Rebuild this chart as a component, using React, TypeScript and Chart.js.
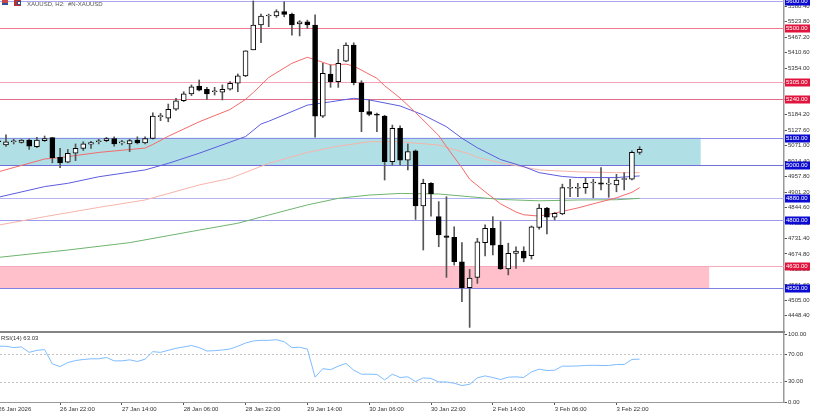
import React, { useEffect, useRef } from "react";
import { Chart, registerables } from "chart.js";

Chart.register(...registerables);

// ---------------- data ----------------
const timeTickBars = [0, 8, 16, 24, 32, 40, 48, 56, 64, 72, 80];
const timeTickLabels = [
  "26 Jan 2026", "26 Jan 22:00", "27 Jan 14:00", "28 Jan 06:00", "28 Jan 22:00",
  "29 Jan 14:00", "30 Jan 06:00", "30 Jan 22:00", "2 Feb 14:00", "3 Feb 06:00", "3 Feb 22:00",
];

const opens = [
  5087, 5073, 5085, 5083, 5091, 5067, 5089, 5100, 5028, 5010,
  5043, 5061, 5076, 5085, 5089, 5097, 5081, 5077, 5091, 5081,
  5097, 5177, 5171, 5204, 5235, 5260, 5289, 5277, 5268, 5266,
  5277, 5299, 5326, 5421, 5512, 5545, 5545, 5561, 5551, 5516,
  5524, 5512, 5179, 5333, 5305, 5380, 5439, 5301, 5195, 5186,
  5179, 5012, 5134, 5018, 5052, 4850, 4933, 4811, 4741, 4735,
  4646, 4551, 4589, 4716, 4768, 4707, 4620, 4677, 4685, 4668,
  4772, 4842, 4809, 4821, 4915, 4915, 4917, 4934, 4935, 4930,
  4927, 4947, 4948, 5046,
];
const highs = [
  5100, 5110, 5094, 5093, 5095, 5101, 5106, 5101, 5061, 5057,
  5077, 5085, 5087, 5094, 5101, 5103, 5090, 5094, 5103, 5103,
  5191, 5189, 5223, 5244, 5268, 5293, 5311, 5284, 5284, 5293,
  5305, 5333, 5418, 5600, 5552, 5552, 5568, 5597, 5556, 5528,
  5530, 5549, 5372, 5366, 5423, 5447, 5447, 5308, 5238, 5190,
  5182, 5146, 5143, 5077, 5055, 4948, 4936, 4866, 4884, 4774,
  4716, 4618, 4732, 4781, 4811, 4793, 4714, 4701, 4701, 4777,
  4857, 4845, 4826, 4930, 4948, 4933, 4951, 4948, 4991, 4951,
  4966, 4972, 5052, 5067,
];
const lows = [
  5070, 5068, 5077, 5080, 5057, 5063, 5086, 5008, 4990, 5008,
  5016, 5053, 5061, 5077, 5085, 5069, 5073, 5049, 5077, 5077,
  5095, 5162, 5158, 5200, 5232, 5254, 5271, 5240, 5256, 5238,
  5274, 5268, 5323, 5421, 5447, 5506, 5540, 5542, 5475, 5472,
  5500, 5102, 5174, 5284, 5284, 5378, 5293, 5122, 5180, 5122,
  4945, 5000, 5000, 4982, 4801, 4689, 4813, 4701, 4589, 4634,
  4500, 4406, 4567, 4667, 4671, 4618, 4598, 4622, 4646, 4656,
  4765, 4748, 4799, 4818, 4884, 4884, 4896, 4880, 4909, 4882,
  4902, 4909, 4945, 5039,
];
const closes = [
  5085, 5085, 5086, 5091, 5069, 5091, 5097, 5027, 5008, 5043,
  5061, 5077, 5082, 5086, 5097, 5077, 5082, 5089, 5081, 5097,
  5179, 5178, 5204, 5235, 5260, 5286, 5274, 5260, 5269, 5277,
  5299, 5326, 5418, 5512, 5545, 5548, 5561, 5551, 5512, 5524,
  5512, 5179, 5335, 5305, 5372, 5439, 5301, 5195, 5185, 5182,
  5012, 5134, 5018, 5049, 4850, 4933, 4894, 4744, 4735, 4646,
  4551, 4586, 4719, 4768, 4707, 4620, 4677, 4685, 4659, 4774,
  4842, 4809, 4823, 4917, 4916, 4916, 4933, 4936, 4930, 4931,
  4945, 4949, 5046, 5057,
];

const rsiValues = [
  82, 82, 80, 81, 73, 76, 77, 56, 52, 58,
  61, 62.5, 63.5, 63.5, 65.5, 60.5, 60.5, 62, 59.6, 63,
  74, 73, 76, 79, 81, 83, 80, 75, 75.5, 76.5,
  78, 82, 86.7, 89.7, 90.7, 90.7, 91.6, 88.6, 80, 80.5,
  77.8, 36.5, 49, 47.5, 52.7, 56.7, 46.8, 40.9, 40.9, 40.5,
  32.5, 40.9, 36, 37, 30, 35.5, 34.6, 29.5, 29.5, 27.6,
  24.2, 26, 35.5, 38.4, 36, 33, 36.5, 37, 36, 44.3,
  48.3, 46.3, 46.8, 52.7, 52.7, 53, 53.7, 54, 53.7, 53.7,
  55.2, 55.2, 62.6, 63.03,
];

const maFastBars = [0, 6, 8, 13, 19, 20, 22, 26, 30, 32, 33, 35, 38, 40, 41, 43, 45, 46, 49, 50, 52, 54, 57, 58, 60, 61, 63, 65, 67, 68, 70, 72, 75, 77, 80, 82, 83];
const maFastValues = [4975, 5022, 5027, 5046, 5062, 5075, 5105, 5158, 5203, 5240, 5265, 5320, 5372, 5394, 5385, 5366, 5369, 5362, 5317, 5290, 5245, 5192, 5108, 5067, 4990, 4948, 4902, 4858, 4828, 4818, 4813, 4824, 4843, 4858, 4880, 4900, 4917];

const maMidBars = [0, 6, 9, 13, 19, 22, 26, 31, 32, 34, 35, 40, 43, 46, 48, 52, 55, 58, 60, 62, 65, 68, 70, 73, 75, 80, 83];
const maMidValues = [4882, 4921, 4933, 4957, 4982, 5006, 5043, 5094, 5104, 5150, 5160, 5219, 5231, 5244, 5238, 5216, 5183, 5140, 5098, 5063, 5020, 4994, 4972, 4958, 4954, 4954, 4960];

const maSlowBars = [0, 6, 13, 19, 26, 30, 35, 40, 44, 48, 52, 57, 61, 62, 65, 67, 70, 75, 80, 83];
const maSlowValues = [4780, 4811, 4845, 4872, 4927, 4951, 5006, 5046, 5069, 5085, 5085, 5073, 5040, 5028, 5008, 4998, 4982, 4975, 4972, 4972];

const maLongBars = [0, 9, 17, 26, 31, 35, 40, 44, 48, 52, 57, 61, 65, 70, 75, 80, 83];
const maLongValues = [4662, 4689, 4716, 4762, 4787, 4817, 4854, 4878, 4890, 4896, 4894, 4884, 4874, 4869, 4872, 4873, 4878];

const priceTicks = [
  5580.4, 5523.8, 5467.2, 5410.6, 5354.0, 5297.4, 5240.8, 5184.2, 5127.6, 5071.0, 5014.4,
  4957.8, 4901.2, 4844.6, 4788.0, 4731.4, 4674.8, 4618.2, 4561.6, 4505.0, 4448.4,
];
const rsiTicks = [100, 70, 30, 0];
const rsiLevels = [70, 30];

const levelPrices = [5600, 5500, 5305, 5240, 5100, 5000, 4880, 4800, 4630, 4550];
const levelTags = ["blue", "red", "red", "red", "blue", "blue", "blue", "blue", "red", "blue"];

const zoneLows = [5000, 4550];
const zoneHighs = [5100, 4630];
const zoneEndBars = [90.9, 92.0];

const symbolTitle = "XAUUSD, H2:  #N-XAUUSD";
const rsiTitle = "RSI(14) 63.03";

// ---------------- styles ----------------
const X_MIN = 0.225;
const X_MAX = 101.68;
const Y_MIN = 4396.5;
const Y_MAX = 5603.5;
const FONT = "'Liberation Sans', Arial, sans-serif";
const TEXT = "#333333";
const levelLineColors = ["#a8a8f0", "#f07890", "#f4a4b6", "#e0708c", "#8c8ce8", "#7070d8", "#b4b4f2", "#9c9cec", "#f4a8b8", "#8080e0"];
const zoneFills = ["#b0e0e6", "#ffc0cb"];

function lineSet(bars: number[], vals: number[], color: string, order: number) {
  return {
    type: "line" as const,
    data: bars.map((b, k) => ({ x: b, y: vals[k] })),
    borderColor: color,
    borderWidth: 1,
    pointRadius: 0,
    tension: 0,
    fill: false,
    order,
  };
}

const mainDecor = {
  id: "mainDecor",
  beforeDatasetsDraw(chart: any) {
    const { ctx, chartArea: a, scales } = chart;
    const x = scales.x, y = scales.y;
    ctx.save();
    ctx.beginPath();
    ctx.rect(a.left, a.top, a.right - a.left, a.bottom - a.top);
    ctx.clip();
    zoneLows.forEach((lo, k) => {
      const top = y.getPixelForValue(zoneHighs[k]);
      const bot = y.getPixelForValue(lo);
      const right = x.getPixelForValue(zoneEndBars[k]);
      ctx.fillStyle = zoneFills[k];
      ctx.fillRect(a.left, top, right - a.left, bot - top);
    });
    levelPrices.forEach((p, k) => {
      const py = Math.round(y.getPixelForValue(p)) + 0.5;
      ctx.strokeStyle = levelLineColors[k];
      ctx.lineWidth = 1;
      ctx.beginPath();
      ctx.moveTo(a.left, py);
      ctx.lineTo(a.right, py);
      ctx.stroke();
    });
    ctx.restore();
  },
  afterDraw(chart: any) {
    const { ctx, chartArea: a, scales } = chart;
    const y = scales.y;
    ctx.save();
    levelPrices.forEach((p, k) => {
      const py = Math.round(y.getPixelForValue(p));
      ctx.fillStyle = levelTags[k] === "red" ? "#e0143c" : "#0a0ad2";
      ctx.fillRect(a.right + 1, py - 3.5, 25, 8);
      ctx.fillStyle = "#ffffff";
      ctx.font = `6px ${FONT}`;
      ctx.textBaseline = "middle";
      ctx.textAlign = "left";
      ctx.fillText(p.toFixed(2), a.right + 2, py + 0.5);
    });
    // header icons + title
    ctx.fillStyle = "#c84848";
    ctx.fillRect(2, 0, 6, 5);
    ctx.fillStyle = "#2f4f96";
    ctx.fillRect(2, 3, 6, 2);
    ctx.fillStyle = "#b83232";
    ctx.fillRect(14, 0, 7, 6);
    ctx.fillStyle = "#2f4f96";
    ctx.fillRect(17, 1, 4, 4);
    ctx.fillStyle = "#ffffff";
    ctx.fillRect(18, 2, 2, 2);
    ctx.fillStyle = "#555555";
    ctx.font = `6px ${FONT}`;
    ctx.textBaseline = "middle";
    ctx.textAlign = "left";
    ctx.fillText(symbolTitle, 27, 4);
    ctx.restore();
  },
};

const rsiDecor = {
  id: "rsiDecor",
  beforeDatasetsDraw(chart: any) {
    const { ctx, chartArea: a, scales } = chart;
    const y = scales.y;
    ctx.save();
    ctx.strokeStyle = "#c4c4c4";
    ctx.lineWidth = 1;
    ctx.setLineDash([2, 2]);
    rsiLevels.forEach((v) => {
      const py = Math.round(y.getPixelForValue(v)) + 0.5;
      ctx.beginPath();
      ctx.moveTo(a.left, py);
      ctx.lineTo(a.right, py);
      ctx.stroke();
    });
    ctx.restore();
  },
  afterDraw(chart: any) {
    const { ctx, chartArea: a } = chart;
    ctx.save();
    ctx.fillStyle = "#858585";
    ctx.fillRect(0, 0, a.right + 1, 2);
    ctx.fillStyle = TEXT;
    ctx.font = `6px ${FONT}`;
    ctx.textBaseline = "middle";
    ctx.textAlign = "left";
    ctx.fillText(rsiTitle, 1, 7);
    ctx.restore();
  },
};

export default function App() {
  const mainRef = useRef<HTMLCanvasElement | null>(null);
  const rsiRef = useRef<HTMLCanvasElement | null>(null);

  useEffect(() => {
    document.body.style.margin = "0";
    const idx = opens.map((_, i) => i);
    const wickData = idx.map((i) => ({ x: i, y: [lows[i], highs[i]] }));
    const bodyData = idx.map((i) => ({ x: i, y: [opens[i], closes[i]] }));
    const bodyFill = idx.map((i) => (closes[i] >= opens[i] ? "#ffffff" : "#000000"));

    const main = new Chart(mainRef.current as HTMLCanvasElement, {
      type: "bar",
      data: {
        datasets: [
          lineSet(maLongBars, maLongValues, "#6fb46f", 5) as any,
          lineSet(maSlowBars, maSlowValues, "#f6b4aa", 4) as any,
          lineSet(maMidBars, maMidValues, "#5c5ce0", 3) as any,
          lineSet(maFastBars, maFastValues, "#f46a6a", 2) as any,
          {
            type: "bar",
            data: wickData as any,
            backgroundColor: "#555555",
            borderWidth: 0,
            barThickness: 1,
            grouped: false,
            order: 1,
          } as any,
          {
            type: "bar",
            data: bodyData as any,
            backgroundColor: bodyFill,
            borderColor: "#000000",
            borderWidth: 1,
            borderSkipped: false,
            barThickness: 5,
            minBarLength: 1,
            grouped: false,
            order: 0,
          } as any,
        ],
      },
      options: {
        responsive: false,
        animation: false,
        events: [],
        layout: { padding: { top: 0, left: 0, right: 0, bottom: 1 } },
        plugins: { legend: { display: false }, tooltip: { enabled: false } },
        scales: {
          x: { type: "linear", min: X_MIN, max: X_MAX, offset: false, display: false },
          y: {
            position: "right",
            min: Y_MIN,
            max: Y_MAX,
            afterBuildTicks: (s: any) => {
              s.ticks = priceTicks.map((v) => ({ value: v }));
            },
            afterFit: (s: any) => {
              s.width = 31;
              s.paddingTop = 0;
              s.paddingBottom = 0;
            },
            ticks: {
              autoSkip: false,
              padding: 1,
              color: TEXT,
              font: { family: FONT, size: 6 },
              callback: (v: any) => Number(v).toFixed(2),
            },
            grid: { display: true, drawOnChartArea: false, tickLength: 3, color: "#555555" },
            border: { display: true, color: "#9a9a9a", width: 1.5 },
          },
        },
      } as any,
      plugins: [mainDecor],
    });

    const rsi = new Chart(rsiRef.current as HTMLCanvasElement, {
      type: "line",
      data: {
        datasets: [
          {
            data: rsiValues.map((v, i) => ({ x: i, y: v })),
            borderColor: "#7ebcff",
            borderWidth: 1,
            pointRadius: 0,
            tension: 0,
            fill: false,
          } as any,
        ],
      },
      options: {
        responsive: false,
        animation: false,
        events: [],
        layout: { padding: { top: 3, left: 0, right: 0, bottom: 0 } },
        plugins: { legend: { display: false }, tooltip: { enabled: false } },
        scales: {
          x: {
            type: "linear",
            min: X_MIN,
            max: X_MAX,
            offset: false,
            position: "bottom",
            afterBuildTicks: (s: any) => {
              s.ticks = timeTickBars.map((v) => ({ value: v }));
            },
            afterFit: (s: any) => {
              s.height = 12;
              s.paddingLeft = 0;
              s.paddingRight = 0;
            },
            ticks: {
              autoSkip: false,
              maxRotation: 0,
              minRotation: 0,
              align: "start",
              padding: 1,
              color: TEXT,
              font: { family: FONT, size: 6 },
              callback: (v: any) => {
                const k = timeTickBars.indexOf(Number(v));
                return k >= 0 ? timeTickLabels[k] : "";
              },
            },
            grid: { display: true, drawOnChartArea: false, tickLength: 3, color: "#555555" },
            border: { display: true, color: "#9a9a9a", width: 1 },
          },
          y: {
            position: "right",
            min: 0,
            max: 100,
            afterBuildTicks: (s: any) => {
              s.ticks = rsiTicks.map((v) => ({ value: v }));
            },
            afterFit: (s: any) => {
              s.width = 31;
              s.paddingTop = 0;
              s.paddingBottom = 0;
            },
            ticks: {
              autoSkip: false,
              padding: 1,
              color: TEXT,
              font: { family: FONT, size: 6 },
              callback: (v: any) => Number(v).toFixed(2),
            },
            grid: { display: true, drawOnChartArea: false, tickLength: 3, color: "#555555" },
            border: { display: true, color: "#9a9a9a", width: 1.5 },
          },
        },
      } as any,
      plugins: [rsiDecor],
    });

    return () => {
      main.destroy();
      rsi.destroy();
    };
  }, []);

  return (
    <div style={{ position: "absolute", left: 0, top: 0, width: 815, height: 414, background: "#ffffff", overflow: "hidden" }}>
      <canvas ref={mainRef} width={815} height={331} style={{ position: "absolute", left: 0, top: 0 }} />
      <canvas ref={rsiRef} width={815} height={83} style={{ position: "absolute", left: 0, top: 331 }} />
    </div>
  );
}
